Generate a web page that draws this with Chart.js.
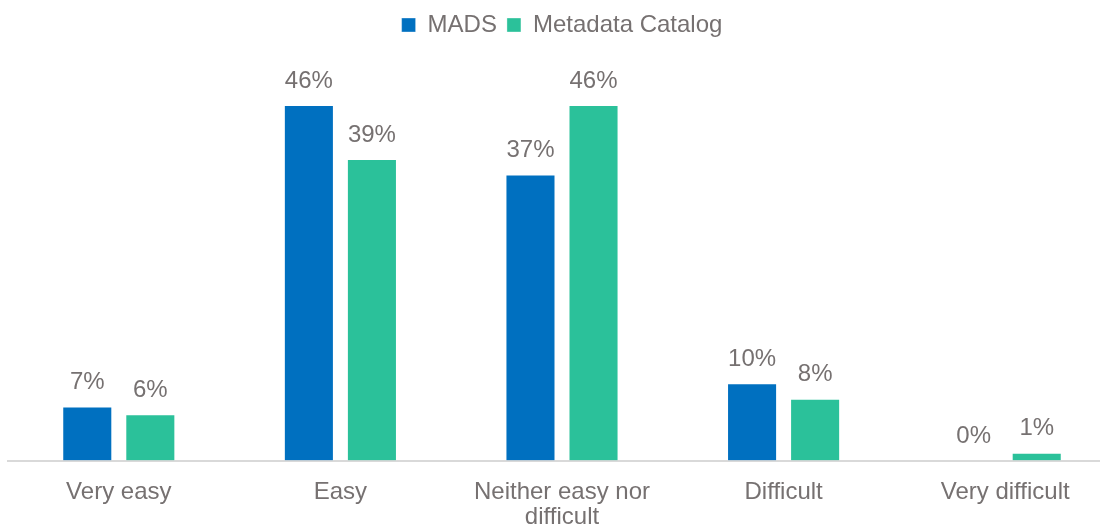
<!DOCTYPE html>
<html>
<head>
<meta charset="utf-8">
<script src="https://cdn.jsdelivr.net/npm/chart.js@4"></script>
<style>
  html, body { margin: 0; padding: 0; background: #fff; overflow: hidden; }
  #wrap { width: 1118px; height: 549px; position: relative; }
</style>
</head>
<body>
<div id="wrap"><canvas id="easeChart"></canvas></div>
<script>
const categories = ["Very easy", "Easy", ["Neither easy nor", "difficult"], "Difficult", "Very difficult"];
const madsValues = [7, 46, 37, 10, 0];
const catalogValues = [6, 39, 46, 8, 1];

const textColor = '#767171';
const fontFamily = '"Liberation Sans", Arial, sans-serif';

// percent labels above each bar
const barLabels = {
  id: 'barLabels',
  afterDatasetsDraw(chart) {
    const ctx = chart.ctx;
    ctx.save();
    ctx.font = '24px ' + fontFamily;
    ctx.fillStyle = textColor;
    ctx.textAlign = 'center';
    ctx.textBaseline = 'bottom';
    chart.data.datasets.forEach((ds, i) => {
      chart.getDatasetMeta(i).data.forEach((bar, j) => {
        ctx.fillText(ds.data[j] + '%', bar.x, bar.y - 12);
      });
    });
    ctx.restore();
  }
};

const ctx = document.getElementById('easeChart').getContext('2d');
new Chart(ctx, {
  type: 'bar',
  data: {
    labels: categories,
    datasets: [{
      label: 'MADS',
      data: madsValues,
      backgroundColor: '#0070C0',
      borderColor: 'rgba(255,255,255,0.35)',
      borderWidth: 1
    }, {
      label: 'Metadata Catalog',
      data: catalogValues,
      backgroundColor: '#2BC19A',
      borderColor: 'rgba(255,255,255,0.35)',
      borderWidth: 1
    }]
  },
  options: {
    responsive: true,
    maintainAspectRatio: false,
    animation: false,
    datasets: {
      bar: { categoryPercentage: 0.569, barPercentage: 0.794 }
    },
    layout: { padding: { left: 8, right: 2, top: 3, bottom: 0 } },
    scales: {
      x: {
        grid: { display: false, drawTicks: false },
        border: { display: true, color: '#D9D9D9', width: 2 },
        ticks: {
          color: textColor,
          font: { size: 24, family: fontFamily, lineHeight: 1.05 },
          padding: 19,
          maxRotation: 0,
          autoSkip: false
        }
      },
      y: {
        display: false,
        min: 0,
        max: 53.5
      }
    },
    plugins: {
      legend: {
        position: 'top',
        labels: {
          color: textColor,
          font: { size: 24, family: fontFamily },
          usePointStyle: true,
          pointStyle: 'rect',
          boxWidth: 14,
          boxHeight: 14,
          padding: 10
        }
      },
      tooltip: { enabled: false }
    }
  },
  plugins: [barLabels]
});
</script>
</body>
</html>
